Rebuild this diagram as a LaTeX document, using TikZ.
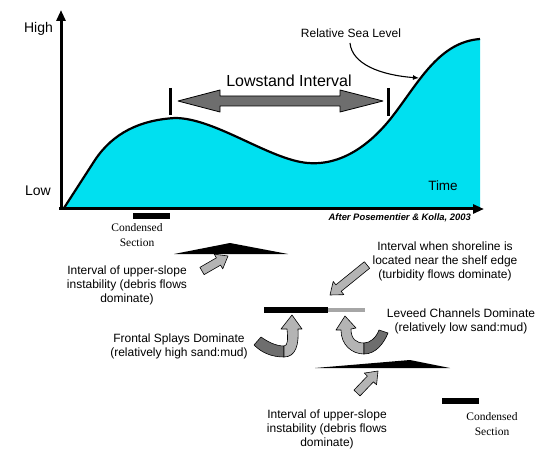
\documentclass[tikz,border=0pt]{standalone}
\usepackage{fontspec}
\setmainfont{Liberation Sans}
\newfontfamily\slserif{Liberation Serif}
\usepackage{tikz}
\usetikzlibrary{arrows.meta,calc}
\definecolor{slcyan}{RGB}{0,224,240}
\definecolor{sllight}{RGB}{180,180,180}
\definecolor{sldark}{RGB}{110,110,110}
\tikzset{
  sltext/.style={inner sep=1pt, align=center, anchor=base, font=\fontsize{12}{14}\selectfont},
  slserifnote/.style={inner sep=1pt, align=center, anchor=base, font=\slserif\fontsize{11.5}{15}\selectfont},
  slaxis/.style={line width=3pt, -{Triangle[length=11pt, width=9pt]}},
  sltick/.style={line width=3pt},
  slblock/.style={draw=black, fill=sllight, line width=0.6pt, line join=round},
  slribbon/.style={draw=black, line width=0.6pt, line join=round},
}
\newcommand{\SLBlockArrow}[2]{% straight grey arrow from #1 to #2
  \coordinate (nk) at ($(#2)!11pt!(#1)$);
  \draw[slblock] ($(#1)!4.2pt!90:(#2)$) -- ($(nk)!4.2pt!-90:(#1)$) -- ($(nk)!8.5pt!-90:(#1)$) -- (#2)
    -- ($(nk)!8.5pt!90:(#1)$) -- ($(nk)!4.2pt!90:(#1)$) -- ($(#1)!4.2pt!-90:(#2)$) -- cycle;
}

\begin{document}
\begin{tikzpicture}[x=1pt, y=-1pt]
  \useasboundingbox (0,0) rectangle (550,460);

  % Sea level curve
  \fill[slcyan] (64,208) -- (95,160) .. controls (113,133) and (140,120) .. (175,118)
    .. controls (215,118) and (270,160) .. (308,163)
    .. controls (345,166) and (375,140) .. (395,113)
    .. controls (420,80) and (440,42) .. (480,39) -- (480,208) -- cycle;
  \draw[line width=2.2pt, line join=round] (64,208) -- (95,160) .. controls (113,133) and (140,120) .. (175,118)
    .. controls (215,118) and (270,160) .. (308,163)
    .. controls (345,166) and (375,140) .. (395,113)
    .. controls (420,80) and (440,42) .. (480,39);

  % Axes
  \coordinate (origin) at (61,209);
  \draw[slaxis] (origin) -- (61,10);
  \draw[slaxis] (59,209) -- (484,209);
  \node[anchor=base, inner sep=1pt, font=\fontsize{14}{16}\selectfont] (high) at (38.5,33) {High};
  \node[anchor=base, inner sep=1pt, font=\fontsize{14}{16}\selectfont] (low) at (38,196) {Low};
  \node[anchor=base, inner sep=1pt, font=\fontsize{13.5}{16}\selectfont] (time) at (443,191) {Time};
  \node[anchor=base east, inner sep=1pt, font=\bfseries\itshape\fontsize{9.4}{11}\selectfont] (after)
    at (472,220.5) {After Posementier \& Kolla, 2003};

  % Lowstand interval
  \coordinate (ltick) at (170,101);
  \coordinate (rtick) at (388,101);
  \draw[sltick] (170,88) -- (170,115);
  \draw[sltick] (388,88) -- (388,116);
  \draw[fill=sldark, line width=0.8pt, line join=round] (178,101) -- (220,90) -- (220,96) -- (340,96)
    -- (340,90) -- (383,101) -- (340,112) -- (340,106) -- (220,106) -- (220,112) -- cycle;
  \node[anchor=base, inner sep=1pt, font=\fontsize{16}{18}\selectfont] (lowstand) at (289,87) {Lowstand Interval};

  % Relative sea level label
  \node[sltext] (rsl) at (351,37.5) {Relative Sea Level};
  \coordinate (rslpt) at (419,78);
  \draw[line width=1.1pt, -{Latex[length=6pt, width=5pt]}] (350,43) .. controls (352,64) and (380,75) .. (rslpt);

  % Condensed sections
  \fill (133,213) rectangle (170,219);
  \node[slserifnote] (cs1) at (137,247) {Condensed\\Section};
  \fill (442,398) rectangle (479,404);
  \node[slserifnote] (cs2) at (492,435) {Condensed\\Section};

  % Upper-slope instability wedges
  \fill (174,254) -- (230,243) -- (288,254) -- cycle;
  \fill (315,368) -- (410,360) -- (450,368) -- cycle;
  \node[sltext] (upper1) at (127,302) {Interval of upper-slope\\instability (debris flows\\dominate)};
  \node[sltext] (upper2) at (327,446) {Interval of upper-slope\\instability (debris flows\\dominate)};
  \coordinate (a1s) at (202,271); \coordinate (a1e) at (228,256);
  \SLBlockArrow{a1s}{a1e}
  \coordinate (a3s) at (357,393); \coordinate (a3e) at (378,371);
  \SLBlockArrow{a3s}{a3e}

  % Shelf edge
  \fill (264,307) rectangle (328,313);
  \fill[black!35] (328,308) rectangle (365,312);
  \node[sltext] (shore) at (445,278) {Interval when shoreline is\\located near the shelf edge\\(turbidity flows dominate)};
  \coordinate (a2s) at (367,265); \coordinate (a2e) at (330,295);
  \SLBlockArrow{a2s}{a2e}

  % Frontal splays and leveed channels
  \node[sltext] (frontal) at (179,356) {Frontal Splays Dominate\\(relatively high sand:mud)};
  \node[sltext] (leveed) at (461,331) {Leveed Channels Dominate\\(relatively low sand:mud)};
  \draw[slribbon, fill=sldark] (254,345) .. controls (262,353) and (272,357) .. (284,357) -- (284,346)
    .. controls (276,346) and (268,342) .. (261,337) -- cycle;
  \draw[slribbon, fill=sllight] (284,357) .. controls (296,357) and (299,344) .. (298,329) -- (302,329)
    -- (292,315) -- (281,329) -- (287,329) .. controls (288,339) and (288,346) .. (284,346) -- cycle;
  \draw[slribbon, fill=sllight] (336,330) -- (345,316) -- (356,328) -- (351,329)
    .. controls (351,339) and (356,343) .. (364,343) -- (364,354) .. controls (352,354) and (341,345) .. (341,330) -- cycle;
  \draw[slribbon, fill=sldark] (364,354) .. controls (376,354) and (384,343) .. (388,333) -- (379,330)
    .. controls (376,338) and (370,343) .. (364,343) -- cycle;
\end{tikzpicture}
\end{document}
